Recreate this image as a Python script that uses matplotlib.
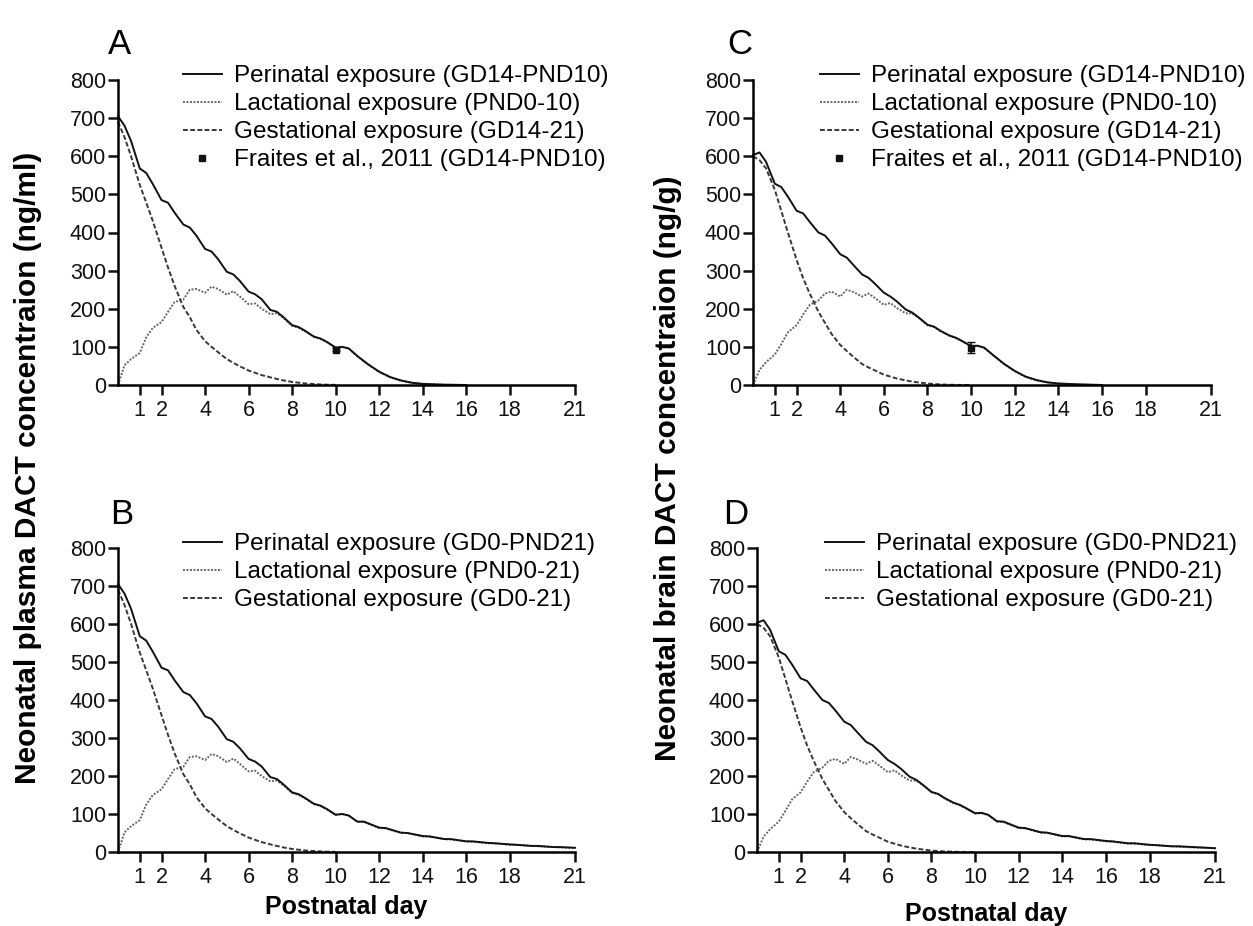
import matplotlib.pyplot as plt
from matplotlib.lines import Line2D

plt.rcParams["font.family"] = ["Liberation Sans", "DejaVu Sans"]

W, H = 1253, 926

# Postnatal days used for the dosing period (dose given at each whole day)
day_early = [0, 0.3, 0.6, 1, 1.3, 1.6, 2, 2.3, 2.6, 3, 3.3, 3.6, 4, 4.3, 4.6,
             5, 5.3, 5.6, 6, 6.3, 6.6, 7, 7.3, 7.6, 8, 8.3, 8.6, 9, 9.3, 9.6,
             10, 10.3, 10.6]
day_gest = day_early[:31]
# after the last dose on PND10
day_stop = [11, 11.5, 12, 12.5, 13, 13.5, 14, 15, 16]
# dosing continued to PND21
day_cont = [11, 11.3, 12, 12.3, 13, 13.3, 14, 14.3, 15, 15.3, 16, 16.3,
            17, 17.3, 18, 18.3, 19, 19.3, 20, 20.3, 21]

# plasma (ng/ml)
plasma_peri = [705, 680, 640, 568, 556, 527, 485, 478, 452, 421, 413, 392,
               357, 350, 330, 297, 290, 273, 245, 238, 225, 197, 192, 178,
               157, 152, 142, 127, 122, 113, 98, 100, 96]
plasma_lact = [0, 52, 68, 84, 125, 150, 165, 192, 218, 224, 250, 252, 242,
               258, 252, 237, 246, 232, 212, 214, 200, 186, 188, 176, 155,
               150, 141, 126, 121, 112, 98, 100, 96]
plasma_gest = [690, 650, 600, 525, 478, 430, 360, 308, 260, 205, 178, 145,
               115, 100, 86, 68, 58, 49, 38, 32, 26, 20, 16, 12, 8, 6, 4,
               2.5, 1.5, 0.8, 0.3]
plasma_peri_stop = [76, 54, 35, 21, 12, 6, 3, 0.8, 0]
plasma_lact_stop = [75, 53, 34, 20, 11, 5.5, 2.5, 0.7, 0]
plasma_peri_cont = [80, 80, 64, 63, 51, 50, 42, 41, 34, 34, 28, 28, 24, 23,
                    20, 19, 16, 16, 13, 13, 11]
plasma_lact_cont = [79, 79, 63, 62, 50, 50, 41, 41, 34, 33, 28, 27, 23, 23,
                    19, 19, 16, 15, 13, 12, 11]

# brain (ng/g)
brain_peri = [603, 610, 585, 528, 519, 494, 457, 450, 428, 400, 392, 372,
              343, 334, 315, 290, 281, 265, 242, 232, 219, 198, 190, 177,
              158, 153, 142, 130, 124, 115, 102, 103, 98]
brain_lact = [0, 40, 60, 80, 108, 138, 157, 185, 210, 222, 240, 245, 232,
              250, 244, 232, 240, 228, 210, 215, 202, 188, 188, 176, 157,
              152, 141, 129, 123, 114, 101, 102, 97]
brain_gest = [600, 590, 568, 512, 456, 400, 328, 280, 240, 192, 163, 134,
              105, 89, 74, 55, 46, 38, 27, 22, 17, 12, 9, 6.5, 4, 2.5, 1.5,
              0.7, 0.3, 0.1, 0]
brain_peri_stop = [79, 56, 37, 22, 13, 7, 4, 1.5, 0]
brain_lact_stop = [78, 55, 36, 21, 12, 6.5, 3.5, 1.3, 0]
brain_peri_cont = [81, 80, 64, 63, 52, 51, 42, 42, 34, 34, 29, 28, 23, 23,
                   19, 18, 15, 15, 13, 12, 10]
brain_lact_cont = [80, 79, 63, 62, 51, 50, 41, 41, 33, 33, 28, 27, 22, 22,
                   18, 18, 15, 14, 12, 12, 10]

# Fraites et al., 2011 measurement on PND10
fraites_day = [10]
fraites_plasma = [93]
fraites_plasma_err = [5]
fraites_brain = [98]
fraites_brain_err = [15]

xticks = [1, 2, 4, 6, 8, 10, 12, 14, 16, 18, 21]

PERI = dict(color="#111111", lw=1.4, ls="-")
LACT = dict(color="#666666", lw=1.4, ls=(0, (1, 0.8)))
GEST = dict(color="#383838", lw=1.4, ls=(0, (2.5, 1.2)))


def add_axes(fig, x0, x1, ytop, ybot):
    ax = fig.add_axes([x0 / W, 1 - ybot / H, (x1 - x0) / W, (ybot - ytop) / H])
    ax.set_xlim(0, 21)
    ax.set_ylim(0, 800)
    ax.set_xticks(xticks)
    ax.set_yticks(range(0, 801, 100))
    for s in ("top", "right"):
        ax.spines[s].set_visible(False)
    for s in ("left", "bottom"):
        ax.spines[s].set_linewidth(1.8)
    ax.tick_params(width=1.8, length=7, labelsize=15.5, colors="#111111")
    ax.tick_params(axis="x", pad=4)
    ax.tick_params(axis="y", pad=1.5)
    return ax


def draw_panel(ax, peri, lact, gest, tail_day, peri_tail, lact_tail):
    ax.plot(day_early + tail_day, lact + lact_tail, clip_on=False, **LACT)
    ax.plot(day_gest, gest, clip_on=False, **GEST)
    ax.plot(day_early + tail_day, peri + peri_tail, clip_on=False, **PERI)


def add_legend(ax, x_px, top_px, labels, with_point):
    handles = [Line2D([], [], **PERI), Line2D([], [], **LACT),
               Line2D([], [], **GEST)]
    if with_point:
        handles.append(Line2D([], [], ls="none", marker="s", ms=5,
                              color="#111111"))
    ax.legend(handles, labels, loc="upper left",
              bbox_to_anchor=(x_px / W, 1 - top_px / H),
              bbox_transform=ax.figure.transFigure, frameon=False,
              fontsize=17.5, handlelength=1.6, handletextpad=0.5,
              labelspacing=0.25, borderpad=0, borderaxespad=0)


fig = plt.figure(figsize=(W / 100, H / 100), dpi=100)

# A: plasma, GD14-PND10
ax_a = add_axes(fig, 118, 575, 80, 385)
draw_panel(ax_a, plasma_peri, plasma_lact, plasma_gest,
           day_stop, plasma_peri_stop, plasma_lact_stop)
ax_a.errorbar(fraites_day, fraites_plasma, yerr=fraites_plasma_err, fmt="s",
              ms=5, color="#111111", capsize=3, elinewidth=1.2)
add_legend(ax_a, 183, 65, ["Perinatal exposure (GD14-PND10)",
                           "Lactational exposure (PND0-10)",
                           "Gestational exposure (GD14-21)",
                           "Fraites et al., 2011 (GD14-PND10)"], True)

# B: plasma, GD0-PND21
ax_b = add_axes(fig, 118, 575, 548, 852)
draw_panel(ax_b, plasma_peri, plasma_lact, plasma_gest,
           day_cont, plasma_peri_cont, plasma_lact_cont)
add_legend(ax_b, 183, 533, ["Perinatal exposure (GD0-PND21)",
                            "Lactational exposure (PND0-21)",
                            "Gestational exposure (GD0-21)"], False)
ax_b.set_xlabel("Postnatal day", fontsize=18, fontweight="bold", labelpad=5)

# C: brain, GD14-PND10
ax_c = add_axes(fig, 753, 1211, 80, 385)
draw_panel(ax_c, brain_peri, brain_lact, brain_gest,
           day_stop, brain_peri_stop, brain_lact_stop)
ax_c.errorbar(fraites_day, fraites_brain, yerr=fraites_brain_err, fmt="s",
              ms=5, color="#111111", capsize=3, elinewidth=1.2)
add_legend(ax_c, 820, 65, ["Perinatal exposure (GD14-PND10)",
                           "Lactational exposure (PND0-10)",
                           "Gestational exposure (GD14-21)",
                           "Fraites et al., 2011 (GD14-PND10)"], True)

# D: brain, GD0-PND21
ax_d = add_axes(fig, 757, 1215, 548, 852)
draw_panel(ax_d, brain_peri, brain_lact, brain_gest,
           day_cont, brain_peri_cont, brain_lact_cont)
add_legend(ax_d, 825, 533, ["Perinatal exposure (GD0-PND21)",
                            "Lactational exposure (PND0-21)",
                            "Gestational exposure (GD0-21)"], False)
ax_d.set_xlabel("Postnatal day", fontsize=18, fontweight="bold", labelpad=10)

# panel letters
for letter, x, y in [("A", 120, 45), ("B", 122, 514), ("C", 740, 45),
                     ("D", 736, 514)]:
    fig.text(x / W, 1 - y / H, letter, fontsize=25, ha="center", va="center")

fig.text(28 / W, 1 - 468 / H, "Neonatal plasma DACT concentraion (ng/ml)",
         rotation=90, fontsize=21.5, fontweight="bold", ha="center", va="center")
fig.text(668 / W, 1 - 468 / H, "Neonatal brain DACT concentraion (ng/g)",
         rotation=90, fontsize=21.5, fontweight="bold", ha="center", va="center")

fig.savefig("out.png", dpi=100)
